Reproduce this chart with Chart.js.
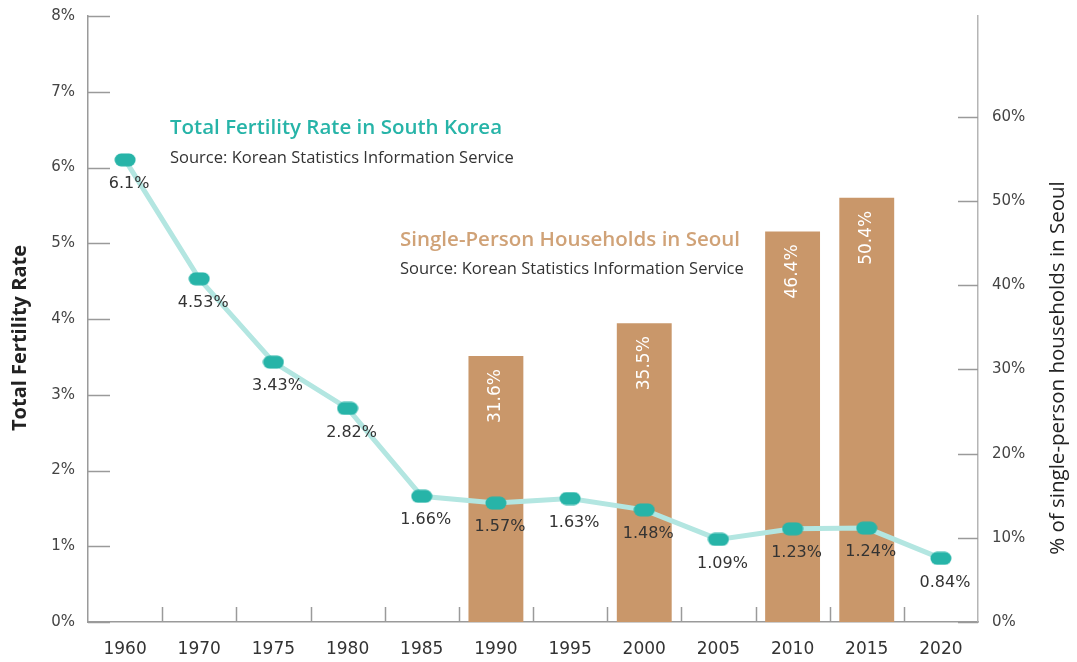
<!DOCTYPE html>
<html>
<head>
<meta charset="utf-8">
<title>Fertility rate and single-person households</title>
<script src="https://cdn.jsdelivr.net/npm/chart.js@4.4.0/dist/chart.umd.min.js"></script>
<style>
	html, body { margin: 0; padding: 0; background: #fff; }
	#wrap { width: 1077px; height: 662px; }
</style>
</head>
<body>
<div id="wrap"><canvas id="combo-chart" width="1077" height="662"></canvas></div>
<script>
var years = ["1960", "1970", "1975", "1980", "1985", "1990", "1995", "2000", "2005", "2010", "2015", "2020"];
var fertilityRate = [6.1, 4.53, 3.43, 2.82, 1.66, 1.57, 1.63, 1.48, 1.09, 1.23, 1.24, 0.84];
var fertilityLabels = ["6.1%", "4.53%", "3.43%", "2.82%", "1.66%", "1.57%", "1.63%", "1.48%", "1.09%", "1.23%", "1.24%", "0.84%"];
var singleHouseholds = [null, null, null, null, null, 31.6, null, 35.5, null, 46.4, 50.4, null];
var leftTicks = [0, 1, 2, 3, 4, 5, 6, 7, 8];
var rightTicks = [0, 10, 20, 30, 40, 50, 60];

var
	teal = "#27b4a8",
	lightTeal = "#b3e6e1",
	tan = "#c9976a",
	tanText = "#d0a277",
	axisGrey = "#9a9a9a",
	textDark = "#333333",
	fontFamily = "'Open Sans', 'Noto Sans', sans-serif",
	numFont = "'DejaVu Sans', sans-serif";

// pill shaped marker
var pill = document.createElement("canvas");
pill.width = 22;
pill.height = 14;
(function () {
	var c = pill.getContext("2d");
	c.fillStyle = teal;
	c.beginPath();
	c.arc(7, 7, 6.5, Math.PI / 2, Math.PI * 1.5);
	c.arc(15, 7, 6.5, Math.PI * 1.5, Math.PI / 2);
	c.closePath();
	c.fill();
})();

var innerTicks = {
	id: "innerTicks",
	afterDatasetsDraw: function (chart) {
		var ctx = chart.ctx, x = chart.scales.x, y = chart.scales.y, y1 = chart.scales.y1, i, p;
		ctx.save();
		ctx.strokeStyle = axisGrey;
		ctx.lineWidth = 1.5;
		ctx.beginPath();
		for (i = 1; i < years.length; i++) {
			p = Math.round((x.getPixelForValue(i - 1) + x.getPixelForValue(i)) / 2) + 0.5;
			ctx.moveTo(p, x.top);
			ctx.lineTo(p, x.top - 15);
		}
		leftTicks.forEach(function (v) {
			p = Math.round(y.getPixelForValue(v)) + 0.5;
			ctx.moveTo(y.right, p);
			ctx.lineTo(y.right + 22, p);
		});
		rightTicks.forEach(function (v) {
			p = Math.round(y1.getPixelForValue(v)) + 0.5;
			ctx.moveTo(y1.left, p);
			ctx.lineTo(y1.left - 20, p);
		});
		ctx.stroke();
		ctx.restore();
	}
};

var valueLabels = {
	id: "valueLabels",
	afterDatasetsDraw: function (chart) {
		var ctx = chart.ctx;
		ctx.save();
		// bar values, rotated, white
		chart.getDatasetMeta(0).data.forEach(function (bar, i) {
			if (singleHouseholds[i] === null) return;
			ctx.save();
			ctx.translate(bar.x, bar.y + 13);
			ctx.rotate(-Math.PI / 2);
			ctx.fillStyle = "#ffffff";
			ctx.font = "17px " + numFont;
			ctx.textAlign = "right";
			ctx.textBaseline = "middle";
			ctx.fillText(singleHouseholds[i] + "%", 0, 0);
			ctx.restore();
		});
		// fertility values under the points
		ctx.fillStyle = textDark;
		ctx.font = "16px " + numFont;
		ctx.textAlign = "center";
		ctx.textBaseline = "middle";
		chart.getDatasetMeta(1).data.forEach(function (pt, i) {
			ctx.fillText(fertilityLabels[i], pt.x + 4, pt.y + 24);
		});
		ctx.restore();
	}
};

var annotations = {
	id: "annotations",
	afterDraw: function (chart) {
		var ctx = chart.ctx;
		ctx.save();
		ctx.textBaseline = "middle";
		ctx.textAlign = "left";
		ctx.fillStyle = teal;
		ctx.font = "600 20.5px " + fontFamily;
		ctx.fillText("Total Fertility Rate in South Korea", 170, 128);
		ctx.fillStyle = tanText;
		ctx.fillText("Single-Person Households in Seoul", 400, 240);
		ctx.fillStyle = textDark;
		ctx.font = "16.5px " + fontFamily;
		ctx.fillText("Source: Korean Statistics Information Service", 170, 158);
		ctx.fillText("Source: Korean Statistics Information Service", 400, 269);

		// axis titles, both reading bottom to top
		ctx.textAlign = "center";
		ctx.font = "bold 20px " + fontFamily;
		ctx.fillStyle = "#222222";
		ctx.save();
		ctx.translate(20, 338);
		ctx.rotate(-Math.PI / 2);
		ctx.fillText("Total Fertility Rate", 0, 0);
		ctx.restore();
		ctx.font = "500 20.5px " + fontFamily;
		ctx.save();
		ctx.translate(1058, 368);
		ctx.rotate(-Math.PI / 2);
		ctx.fillText("% of single-person households in Seoul", 0, 0);
		ctx.restore();
		ctx.restore();
	}
};

function fixVertical(width) {
	return function (s) {
		s.width = width;
		s.paddingTop = 0;
		s.paddingBottom = 0;
	};
}

var ctx = document.getElementById("combo-chart").getContext("2d");

var chart = new Chart(ctx, {
	data: {
		labels: years,
		datasets: [{
			type: "bar",
			label: "Single-person households",
			data: singleHouseholds,
			yAxisID: "y1",
			backgroundColor: tan,
			borderWidth: 0,
			barPercentage: 0.74,
			categoryPercentage: 1,
			order: 2
		}, {
			type: "line",
			label: "Total fertility rate",
			data: fertilityRate,
			yAxisID: "y",
			borderColor: lightTeal,
			borderWidth: 5,
			pointStyle: pill,
			pointRadius: 7,
			tension: 0,
			order: 1
		}]
	},
	options: {
		responsive: false,
		animation: false,
		layout: { padding: { top: 16, left: 0, right: 0, bottom: 0 } },
		plugins: {
			legend: { display: false },
			tooltip: { enabled: false }
		},
		scales: {
			x: {
				offset: true,
				grid: { display: false },
				border: { color: axisGrey, width: 1.5 },
				ticks: { color: textDark, padding: 9, font: { family: numFont, size: 17 } },
				afterFit: function (s) {
					s.height = 40;
					s.paddingLeft = 0;
					s.paddingRight = 0;
				}
			},
			y: {
				position: "left",
				min: 0,
				max: 8,
				grid: { display: false },
				border: { color: axisGrey, width: 1.5 },
				ticks: {
					stepSize: 1,
					padding: 5,
					color: "#444444",
					font: { family: numFont, size: 15 },
					callback: function (v) { return v + "%"; }
				},
				afterFit: fixVertical(88)
			},
			y1: {
				position: "right",
				min: 0,
				max: 72,
				grid: { display: false },
				border: { color: "#b5b5b5", width: 1.5 },
				ticks: {
					stepSize: 10,
					padding: 6,
					color: "#444444",
					font: { family: numFont, size: 15 },
					callback: function (v) { return v + "%"; }
				},
				afterBuildTicks: function (s) {
					s.ticks = s.ticks.filter(function (t) { return rightTicks.indexOf(t.value) !== -1; });
				},
				afterFit: fixVertical(99)
			}
		}
	},
	plugins: [innerTicks, valueLabels, annotations]
});
</script>
</body>
</html>
